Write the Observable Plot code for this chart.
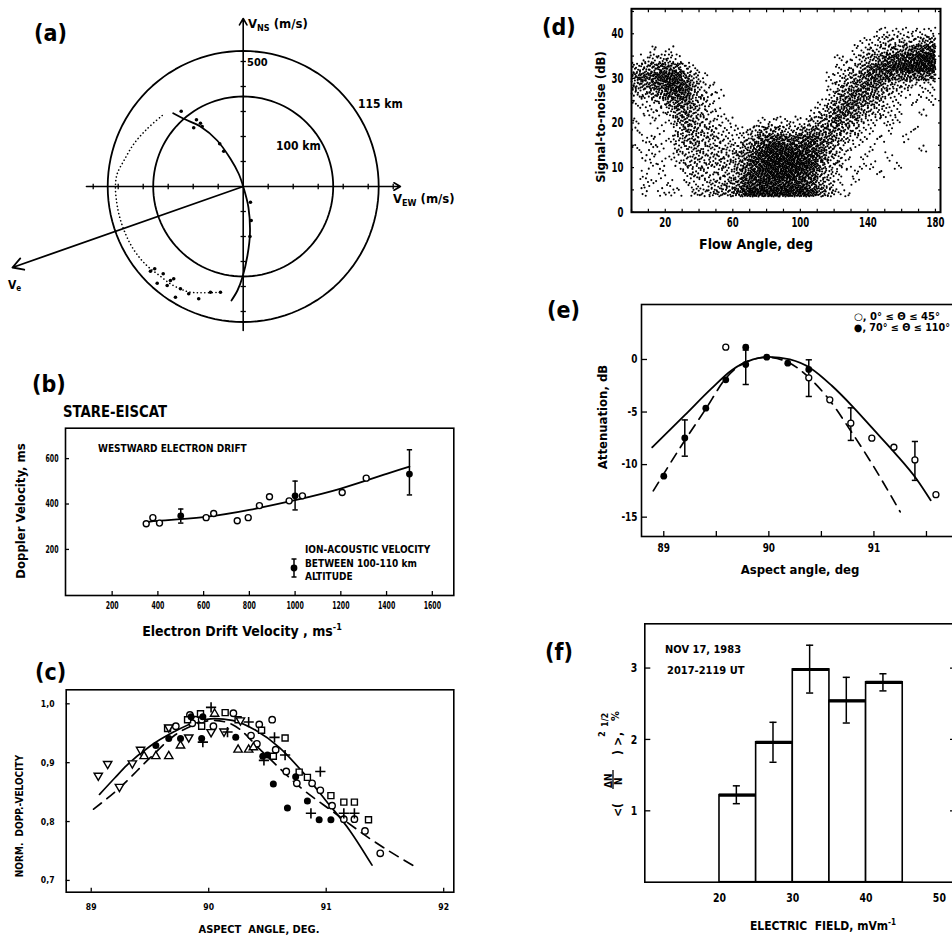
<!DOCTYPE html>
<html><head><meta charset="utf-8">
<script src="https://cdn.jsdelivr.net/npm/d3@7"></script>
<script src="https://cdn.jsdelivr.net/npm/@observablehq/plot@0.6"></script>
<style>
html,body{margin:0;padding:0;background:#fff;}
#root{position:relative;width:952px;height:936px;overflow:hidden;background:#fff;}
</style></head><body><div id="root"></div>
<script>
// ---------------- DATA ----------------
// (a) velocity diagram, m/s
const aRingRadius = [542, 360];               // 115 km, 100 km rings
const aAxisX = [-627, 629];
const aAxisY = [-576, 672];
const aTickX = [-600,-500,-400,-300,-200,-100,100,200,300,400,500,600];
const aTickY = [-500,-400,-300,-200,-100,100,200,300,400,500];
const aVe = [-923, -324];
const aSolidVx = [-280,-238,-171,-104,-51,-18,0,21,27,17,-3,-23,-47];
const aSolidVy = [293,271,240,184,111,51,0,-84,-188,-276,-363,-416,-456];
const aDottedVx = [-324,-384,-437,-477,-504,-511,-507,-494,-471,-444,-411,-378,-330,-290,-250,-211,-91];
const aDottedVy = [284,231,171,104,51,4,-56,-123,-189,-243,-289,-323,-360,-390,-410,-423,-423];
const aDotVx = [-248,-187,-171,-164,-198,-94,-78,-354,-320,-278,-344,-304,-251,-218,-178,-271,-131,-91,-371,-291,29,32,27];
const aDotVy = [301,267,253,240,235,171,141,-329,-349,-369,-387,-396,-409,-429,-449,-443,-423,-423,-339,-376,-63,-136,-200];

// (b) STARE-EISCAT
const bOpenX = [349,378,407,611,644,747,795,844,888,974,1032,1206,1311];
const bOpenY = [313,340,316,340,358,326,340,393,432,414,436,451,514];
const bFilledX = [500,1000,1500];
const bFilledY = [348,436,532];
const bErrLo = [316,374,440];
const bErrHi = [378,501,639];
const bFitX = [350,400,600,800,1000,1200,1400,1500];
const bFitY = [320,326,342,374,417,468,533,565];
const bTicksX = [200,400,600,800,1000,1200,1400,1600];
const bTicksY = [200,400,600];

// (c) normalized Doppler velocity vs aspect angle
const cDown = [[89.06,0.878],[89.14,0.898],[89.24,0.859],[89.35,0.899],[89.42,0.922],[89.66,0.960],[89.83,0.943],[90.02,0.952],[90.27,0.972],[90.13,0.953]];
const cUp = [[89.45,0.911],[89.55,0.911],[89.66,0.911],[89.76,0.929],[90.05,0.983],[90.25,0.922],[90.34,0.922],[90.38,0.926]];
const cFilled = [[89.55,0.929],[89.66,0.941],[89.76,0.941],[89.94,0.941],[90.23,0.943],[90.46,0.911],[90.50,0.913],[90.55,0.864],[90.67,0.823],[90.74,0.876],[90.84,0.835],[90.94,0.803],[91.04,0.803],[89.85,0.978],[89.95,0.978]];
const cCircle = [[89.84,0.981],[89.89,0.973],[89.94,0.973],[90.04,0.962],[90.21,0.984],[90.36,0.946],[90.41,0.932],[90.43,0.965],[90.54,0.973],[90.57,0.922],[90.66,0.885],[90.75,0.865],[90.88,0.865],[90.95,0.853],[91.05,0.827],[91.15,0.804],[91.24,0.804],[91.33,0.784],[91.46,0.746],[89.72,0.962],[89.86,0.967]];
const cSquare = [[89.82,0.973],[89.93,0.983],[89.94,0.962],[90.14,0.985],[90.25,0.973],[90.45,0.955],[90.65,0.942],[90.55,0.911],[90.77,0.884],[90.84,0.875],[91.04,0.844],[91.15,0.833],[91.24,0.833],[91.36,0.803],[89.65,0.958]];
const cPlus = [[90.02,0.994],[89.95,0.935],[90.16,0.952],[90.34,0.969],[90.56,0.943],[90.65,0.913],[90.95,0.885],[90.87,0.814],[91.15,0.814],[91.24,0.814],[90.47,0.904]];
const cSolidX = [89.07,89.2,89.3,89.5,89.7,89.9,90.05,90.2,90.4,90.6,90.8,91.0,91.2,91.39];
const cSolidY = [0.846,0.874,0.895,0.928,0.952,0.970,0.975,0.972,0.955,0.926,0.884,0.835,0.785,0.726];
const cDashX = [89.02,89.24,89.5,89.7,89.9,90.04,90.2,90.46,90.78,91.07,91.35,91.75];
const cDashY = [0.821,0.857,0.908,0.945,0.966,0.972,0.965,0.918,0.858,0.815,0.774,0.724];
const cTicksX = [89,90,91,92];
const cTicksY = [0.7,0.8,0.9,1.0];

// (d) signal-to-noise vs flow angle: dot counts per 5 deg x 2 dB cell (digit x 4 dots)
const flowBinStart = [0,5,10,15,20,25,30,35,40,45,50,55,60,65,70,75,80,85,90,95,100,105,110,115,120,125,130,135,140,145,150,155,160,165,170,175];
const snrBinStart = [39.5,37.5,35.5,33.5,31.5,29.5,27.5,25.5,23.5,21.5,19.5,17.5,15.5,13.5,11.5,9.5,7.5,5.5,3.5];
const snrDensityRows = [
 "0000000000 0000000000 0000000001 111111",
 "0000000000 0000000000 0000000112 222234",
 "0010100000 0000000000 0000001122 334567",
 "0122210000 0000000000 0000111234 667899",
 "2345542100 0000000000 0000112356 789999",
 "5567874210 0000000000 0001123466 655555",
 "3456886311 0000000000 0001234554 322111",
 "2234676321 1000000000 0001345543 211011",
 "1112455321 0000000000 0012455432 110101",
 "0111244321 1000000000 0123554322 110010",
 "1010134321 1100011111 1234543211 110000",
 "1001023322 1111233322 3444432110 100100",
 "0110123322 2112356655 6654321101 001000",
 "1011022322 2223578877 7653211010 000010",
 "0110112222 2234689999 8753210100 100000",
 "0011012222 2235789999 8742210110 010000",
 "0101001221 2235789998 7632101001 000000",
 "0110101112 2346788887 7532101000 000000",
 "0101110223 3358999999 9743110000 000000"
];
const dTicksLabel = [20,60,100,140,180];
const dTicksMinor = [0,10,20,30,40,50,60,70,80,90,100,110,120,130,140,150,160,170,180];
const dTicksY = [0,10,20,30,40];
const dTicksYMinor = [0,5,10,15,20,25,30,35,40,45];

// (e) attenuation vs aspect angle
const eOpenX = [89.59,90.38,90.58,90.78,90.98,91.19,91.39,91.59];
const eOpenY = [1.17,-1.75,-3.84,-6.06,-7.49,-8.35,-9.56,-12.86];
const eFilledX = [89.0,89.2,89.4,89.59,89.78,89.78,89.98,90.18,90.38];
const eFilledY = [-11.1,-7.46,-4.63,-1.94,1.17,-0.48,0.22,-0.35,-0.95];
const eErrX = [89.2,89.78,90.38,90.78,91.39];
const eErrLo = [-9.2,-2.38,-3.52,-7.7,-11.5];
const eErrHi = [-5.75,0.9,-0.03,-4.6,-7.8];
const eSolidX = [88.89,89.2,89.45,89.65,89.85,90.0,90.2,90.4,90.6,90.8,91.0,91.2,91.4,91.54];
const eSolidY = [-8.35,-5.3,-2.8,-1.0,0.0,0.25,0.0,-0.85,-2.5,-4.5,-6.7,-8.9,-11.3,-13.4];
const eDashX = [88.9,89.2,89.4,89.59,89.78,89.98,90.18,90.38,90.58,90.78,90.98,91.25];
const eDashY = [-12.5,-7.7,-4.7,-1.8,-0.25,0.2,-0.25,-1.7,-3.9,-6.8,-9.9,-14.5];
const eTicksX = [89,90,91];
const eTicksXMinor = [89,89.5,90,90.5,91,91.5];
const eTicksY = [0,-5,-10,-15];

// (f) density fluctuation vs electric field
const fBinStart = [20,25,30,35,40];
const fBinEnd = [25,30,35,40,45];
const fValue = [1.22,1.96,2.98,2.54,2.80];
const fErrX = [22.3,27.3,32.3,37.3,42.3];
const fErrLo = [1.10,1.68,2.65,2.23,2.68];
const fErrHi = [1.35,2.24,3.32,2.87,2.92];
const fTicksX = [20,30,40,50];
const fTicksY = [1,2,3];

// ---------------- HELPERS ----------------
const root = document.getElementById("root");
const FONT = '"DejaVu Sans Condensed","Liberation Sans Narrow","DejaVu Sans",sans-serif';
const plain = d => String(d);
function st(size){ return {fontFamily: FONT, fontWeight: "bold", fontSize: size + "px", background: "transparent", color: "black", overflow: "visible"}; }
function place(svg, left, top, condense){
  svg.style.position = "absolute"; svg.style.left = left + "px"; svg.style.top = top + "px"; svg.style.maxWidth = "none";
  root.appendChild(svg);
  if (condense) svg.querySelectorAll('g[aria-label$="tick label"] text').forEach(t => {
    const w = t.getComputedTextLength();
    if (w > 0) { t.setAttribute("textLength", (w * condense).toFixed(2)); t.setAttribute("lengthAdjust", "spacingAndGlyphs"); }
  });
}
const pts = (xs, ys) => xs.map((x, i) => ({x, y: ys[i]}));
const pairs = arr => arr.map(([x, y]) => ({x, y}));
const sqrt3 = Math.sqrt(3);
const triDown = {draw(ctx, size){ const y = -Math.sqrt(size / (sqrt3 * 3)); ctx.moveTo(0, -y * 2); ctx.lineTo(-sqrt3 * y, y); ctx.lineTo(sqrt3 * y, y); ctx.closePath(); }};
const vbar = {draw(ctx, size){ const h = Math.sqrt(size) / 2; ctx.moveTo(0, -h); ctx.lineTo(0, h); }};
const hbar = {draw(ctx, size){ const h = Math.sqrt(size) / 2; ctx.moveTo(-h, 0); ctx.lineTo(h, 0); }};
function halton(i, b){ let f = 1, r = 0; while (i > 0){ f /= b; r += f * (i % b); i = Math.floor(i / b); } return r; }
function errBars(xs, lo, hi, capR, sw){
  const d = xs.map((x, i) => ({x, lo: lo[i], hi: hi[i]}));
  return [
    Plot.ruleX(d, {x: "x", y1: "lo", y2: "hi", stroke: "black", strokeWidth: sw}),
    Plot.dot(d, {x: "x", y: "lo", symbol: hbar, r: capR, fill: "none", stroke: "black", strokeWidth: sw}),
    Plot.dot(d, {x: "x", y: "hi", symbol: hbar, r: capR, fill: "none", stroke: "black", strokeWidth: sw})
  ];
}

// ---------------- (a) ----------------
const ringPts = aRingRadius.flatMap((r, i) => d3.range(0, 361, 3).map(a => ({ring: i, x: r * Math.cos(a * Math.PI / 180), y: r * Math.sin(a * Math.PI / 180)})));
const aAxes = [{x1: aAxisX[0], y1: 0, x2: aAxisX[1], y2: 0}, {x1: 0, y1: aAxisY[0], x2: 0, y2: aAxisY[1]}];
place(Plot.plot({
  width: 470, height: 335, margin: 0,
  x: {domain: [-970.8, 909.2], axis: null, label: null},
  y: {domain: [-596, 744], axis: null, label: null},
  style: st(11),
  marks: [
    Plot.line(ringPts, {x: "x", y: "y", z: "ring", stroke: "black", strokeWidth: 1.8}),
    Plot.arrow(aAxes, {x1: "x1", y1: "y1", x2: "x2", y2: "y2", stroke: "black", strokeWidth: 1.6, headLength: 7}),
    Plot.dot(aTickX, {x: d => d, y: () => 0, symbol: vbar, r: 3, fill: "none", stroke: "black", strokeWidth: 1.3}),
    Plot.dot(aTickY, {x: () => 0, y: d => d, symbol: hbar, r: 3, fill: "none", stroke: "black", strokeWidth: 1.3}),
    Plot.arrow([{x1: 0, y1: 0, x2: aVe[0], y2: aVe[1]}], {x1: "x1", y1: "y1", x2: "x2", y2: "y2", stroke: "black", strokeWidth: 1.8, headLength: 10}),
    Plot.line(pts(aSolidVx, aSolidVy), {x: "x", y: "y", curve: "catmull-rom", stroke: "black", strokeWidth: 1.8}),
    Plot.line(pts(aDottedVx, aDottedVy), {x: "x", y: "y", curve: "catmull-rom", stroke: "black", strokeWidth: 1.6, strokeDasharray: "0.1,3.6", strokeLinecap: "round"}),
    Plot.dot(pts(aDotVx, aDotVy), {x: "x", y: "y", r: 1.8, fill: "black"})
  ]
}), 0, 0);

// ---------------- (b) ----------------
const bF = bFilledX.map((x, i) => ({x, y: bFilledY[i]}));
place(Plot.plot({
  width: 470, height: 260, marginLeft: 65, marginRight: 16.7, marginTop: 47.7, marginBottom: 45,
  x: {domain: [-4, 1694], axis: null, label: null},
  y: {domain: [-3, 734], axis: null, label: null},
  style: st(10),
  marks: [
    Plot.frame({stroke: "black", strokeWidth: 1.6}),
    Plot.axisX({anchor: "bottom", ticks: bTicksX, tickFormat: plain, tickSize: -4, tickPadding: 10.5, fontSize: 10.5, label: null, strokeWidth: 1.3}),
    Plot.axisY({anchor: "left", ticks: bTicksY, tickFormat: plain, tickSize: -4, tickPadding: 11, fontSize: 10.5, label: null, strokeWidth: 1.3}),
    Plot.line(pts(bFitX, bFitY), {x: "x", y: "y", curve: "natural", stroke: "black", strokeWidth: 1.8}),
    ...errBars(bFilledX, bErrLo, bErrHi, 3, 1.5),
    Plot.dot(pts(bOpenX, bOpenY), {x: "x", y: "y", r: 3, fill: "white", stroke: "black", strokeWidth: 1.4}),
    Plot.dot(bF, {x: "x", y: "y", r: 3.4, fill: "black"})
  ]
}), 0, 380, 0.66);

// ---------------- (c) ----------------
place(Plot.plot({
  width: 470, height: 296, marginLeft: 65.7, marginRight: 16.7, marginTop: 49.3, marginBottom: 44.3,
  x: {domain: [88.787, 92.086], axis: null, label: null},
  y: {domain: [0.680, 1.0238], axis: null, label: null},
  style: st(10),
  marks: [
    Plot.frame({stroke: "black", strokeWidth: 1.6}),
    Plot.axisX({anchor: "bottom", ticks: cTicksX, tickFormat: plain, tickSize: -4, tickPadding: 15, fontSize: 9.5, label: null, strokeWidth: 1.3}),
    Plot.axisY({anchor: "left", ticks: cTicksY, tickSize: -4, tickPadding: 15.7, fontSize: 9.5, label: null, strokeWidth: 1.3, tickFormat: d => d.toFixed(1).replace(".", ",")}),
    Plot.line(pts(cSolidX, cSolidY), {x: "x", y: "y", curve: "monotone-x", stroke: "black", strokeWidth: 1.7}),
    Plot.line(pts(cDashX, cDashY), {x: "x", y: "y", curve: "monotone-x", stroke: "black", strokeWidth: 1.7, strokeDasharray: "10,7"}),
    Plot.dot(pairs(cCircle), {x: "x", y: "y", r: 3.2, fill: "white", stroke: "black", strokeWidth: 1.4}),
    Plot.dot(pairs(cSquare), {x: "x", y: "y", symbol: "square", r: 3.4, fill: "white", stroke: "black", strokeWidth: 1.4}),
    Plot.dot(pairs(cUp), {x: "x", y: "y", symbol: "triangle", r: 3.1, fill: "white", stroke: "black", strokeWidth: 1.4}),
    Plot.dot(pairs(cDown), {x: "x", y: "y", symbol: triDown, r: 3.1, fill: "white", stroke: "black", strokeWidth: 1.4}),
    Plot.dot(pairs(cFilled), {x: "x", y: "y", r: 3.5, fill: "black"}),
    Plot.dot(pairs(cPlus), {x: "x", y: "y", symbol: "plus", r: 3.4, fill: "none", stroke: "black", strokeWidth: 1.6})
  ]
}), 0, 640, 0.9);

// ---------------- (d) ----------------
const snrPoints = [];
snrDensityRows.forEach((rowStr, r) => {
  const row = rowStr.replace(/ /g, "");
  for (let c = 0; c < row.length; c++) {
    const n = +row[c] * 4;
    for (let k = 0; k < n; k++) {
      const idx = (r * 36 + c) * 41 + k + 1;
      snrPoints.push({x: flowBinStart[c] + 5 * halton(idx, 2), y: snrBinStart[r] + 2 * halton(idx, 3)});
    }
  }
});
place(Plot.plot({
  width: 472, height: 290, marginLeft: 151, marginRight: 12, marginTop: 8.3, marginBottom: 78.3,
  x: {domain: [0, 183], axis: null, label: null},
  y: {domain: [0, 45.6], axis: null, label: null},
  style: st(14),
  marks: [
    Plot.dot(snrPoints, {x: "x", y: "y", r: 1.05, fill: "black"}),
    Plot.frame({stroke: "black", strokeWidth: 2}),
    Plot.axisX({anchor: "bottom", ticks: dTicksMinor, tickSize: -3, tickFormat: () => "", label: null, strokeWidth: 1.2}),
    Plot.axisX({anchor: "top", ticks: dTicksMinor, tickSize: -3, tickFormat: () => "", label: null, strokeWidth: 1.2}),
    Plot.axisY({anchor: "left", ticks: dTicksYMinor, tickSize: -3, tickFormat: () => "", label: null, strokeWidth: 1.2}),
    Plot.axisY({anchor: "right", ticks: dTicksYMinor, tickSize: -3, tickFormat: () => "", label: null, strokeWidth: 1.2}),
    Plot.axisX({anchor: "bottom", ticks: dTicksLabel, tickFormat: plain, tickSize: 0, tickPadding: 5, fontSize: 14, label: null}),
    Plot.axisY({anchor: "left", ticks: dTicksY, tickFormat: plain, tickSize: 0, tickPadding: 8, fontSize: 14, label: null})
  ]
}), 480, 0, 0.68);

// ---------------- (e) ----------------
place(Plot.plot({
  width: 500, height: 310, marginLeft: 161, marginRight: 12, marginTop: 14, marginBottom: 64,
  x: {domain: [88.788, 91.9], axis: null, label: null},
  y: {domain: [-16.84, 5.23], axis: null, label: null},
  style: st(12),
  marks: [
    Plot.frame({stroke: "black", strokeWidth: 1.6}),
    Plot.axisX({anchor: "bottom", ticks: eTicksXMinor, tickSize: -5, tickFormat: () => "", label: null, strokeWidth: 1.3}),
    Plot.axisX({anchor: "bottom", ticks: eTicksX, tickFormat: plain, tickSize: 0, tickPadding: 7, fontSize: 11.5, label: null}),
    Plot.axisY({anchor: "left", ticks: eTicksY, tickFormat: plain, tickSize: -6, tickPadding: 10, fontSize: 11.5, label: null, strokeWidth: 1.3}),
    Plot.line(pts(eSolidX, eSolidY), {x: "x", y: "y", curve: "monotone-x", stroke: "black", strokeWidth: 1.8}),
    Plot.line(pts(eDashX, eDashY), {x: "x", y: "y", curve: "monotone-x", stroke: "black", strokeWidth: 1.7, strokeDasharray: "10,7"}),
    ...errBars(eErrX, eErrLo, eErrHi, 3.5, 1.5),
    Plot.dot(pts(eOpenX, eOpenY), {x: "x", y: "y", r: 3, fill: "white", stroke: "black", strokeWidth: 1.3}),
    Plot.dot(pts(eFilledX, eFilledY), {x: "x", y: "y", r: 3.4, fill: "black"})
  ]
}), 480, 290, 0.86);

// ---------------- (f) ----------------
const fBars = fBinStart.map((s, i) => ({x1: s, x2: fBinEnd[i], y: fValue[i]}));
place(Plot.plot({
  width: 490, height: 326, marginLeft: 164.3, marginRight: 15, marginTop: 13.3, marginBottom: 54.3,
  x: {domain: [9.81, 52.2], axis: null, label: null},
  y: {domain: [0, 3.62], axis: null, label: null},
  style: st(13),
  marks: [
    Plot.rectY(fBars, {x1: "x1", x2: "x2", y1: () => 0, y2: "y", fill: "white", stroke: "black", strokeWidth: 1.6}),
    Plot.ruleY(fBars, {y: "y", x1: "x1", x2: "x2", stroke: "black", strokeWidth: 3.2}),
    ...errBars(fErrX, fErrLo, fErrHi, 4, 1.5),
    Plot.frame({stroke: "black", strokeWidth: 1.6}),
    Plot.axisX({anchor: "bottom", ticks: fTicksX, tickFormat: plain, tickSize: 0, tickPadding: 10.5, fontSize: 13, label: null}),
    Plot.axisY({anchor: "left", ticks: fTicksY, tickFormat: plain, tickSize: -6, tickPadding: 13.6, fontSize: 13, label: null, strokeWidth: 1.3}),
    Plot.axisY({anchor: "right", ticks: fTicksY, tickSize: -6, tickFormat: () => "", label: null, strokeWidth: 1.3})
  ]
}), 480, 610, 0.8);

// ---------------- text overlay ----------------
root.insertAdjacentHTML("beforeend", `
<svg width="952" height="936" style="position:absolute;left:0;top:0;pointer-events:none" font-family='${FONT}' font-weight="bold" fill="black">
  <text x="34" y="41" font-size="23">(a)</text>
  <text x="248" y="28" font-size="13">V<tspan font-size="9" dy="3">NS</tspan><tspan dy="-3" dx="4">(m/s)</tspan></text>
  <text x="247" y="66" font-size="11">500</text>
  <text x="358" y="108" font-size="12">115 km</text>
  <text x="276" y="150" font-size="12">100 km</text>
  <text x="393" y="203" font-size="13">V<tspan font-size="9" dy="3">EW</tspan><tspan dy="-3" dx="4">(m/s)</tspan></text>
  <text x="8" y="289" font-size="12">V<tspan font-size="8" dy="2">e</tspan></text>

  <text x="32" y="392" font-size="23">(b)</text>
  <text x="63" y="417" font-size="15" textLength="104" lengthAdjust="spacingAndGlyphs">STARE-EISCAT</text>
  <text x="98" y="452" font-size="10">WESTWARD ELECTRON DRIFT</text>
  <text x="305" y="553" font-size="10">ION-ACOUSTIC VELOCITY</text>
  <text x="305" y="567" font-size="10">BETWEEN 100-110 km</text>
  <text x="305" y="580" font-size="10">ALTITUDE</text>
  <line x1="294" y1="559" x2="294" y2="577" stroke="black" stroke-width="1.5"/>
  <line x1="291.5" y1="559" x2="296.5" y2="559" stroke="black" stroke-width="1.5"/>
  <line x1="291.5" y1="577" x2="296.5" y2="577" stroke="black" stroke-width="1.5"/>
  <circle cx="294" cy="568" r="3.4" fill="black"/>
  <text transform="translate(25,511) rotate(-90)" text-anchor="middle" font-size="13">Doppler Velocity, ms</text>
  <text x="242" y="636" text-anchor="middle" font-size="14">Electron Drift Velocity , ms<tspan dy="-6" font-size="9">-1</tspan></text>

  <text x="35" y="680" font-size="23">(c)</text>
  <text transform="translate(23,816) rotate(-90)" text-anchor="middle" font-size="10" xml:space="preserve">NORM.  DOPP.-VELOCITY</text>
  <text x="259" y="933" text-anchor="middle" font-size="11" xml:space="preserve">ASPECT  ANGLE, DEG.</text>

  <text x="542" y="35" font-size="23">(d)</text>
  <text transform="translate(605,117) rotate(-90)" text-anchor="middle" font-size="13">Signal-to-noise (dB)</text>
  <text x="756" y="249" text-anchor="middle" font-size="14">Flow Angle, deg</text>

  <text x="547" y="318" font-size="23">(e)</text>
  <text transform="translate(607,417) rotate(-90)" text-anchor="middle" font-size="13">Attenuation, dB</text>
  <text x="800" y="574" text-anchor="middle" font-size="13">Aspect angle, deg</text>
  <text x="854" y="320" font-size="10" textLength="86" lengthAdjust="spacingAndGlyphs">○, 0° ≤ Θ ≤ 45°</text>
  <text x="854" y="331" font-size="10" textLength="96" lengthAdjust="spacingAndGlyphs">●, 70° ≤ Θ ≤ 110°</text>

  <text x="545" y="660" font-size="23">(f)</text>
  <text x="665" y="653" font-size="11">NOV 17, 1983</text>
  <text x="667" y="674" font-size="11">2017-2119 UT</text>
  <g transform="translate(622,817) rotate(-90)">
    <text x="0" y="0" font-size="12">&lt;(</text>
    <text x="29" y="-10.5" font-size="10">ΔN</text>
    <line x1="28" y1="-9" x2="47" y2="-9" stroke="black" stroke-width="1.3"/>
    <text x="32" y="0" font-size="10">N</text>
    <text x="62" y="0" font-size="12">)</text>
    <text x="71" y="0" font-size="12">&gt;</text>
    <text x="80" y="-17" font-size="9">2</text>
    <text x="81" y="0" font-size="12">,</text>
    <text x="90" y="-14" font-size="9">1/2</text>
    <text x="96" y="-3" font-size="11">%</text>
  </g>
  <text x="823" y="930" text-anchor="middle" font-size="12" xml:space="preserve">ELECTRIC  FIELD, mVm<tspan dy="-5" font-size="8">-1</tspan></text>
</svg>`);
</script>
</body></html>
